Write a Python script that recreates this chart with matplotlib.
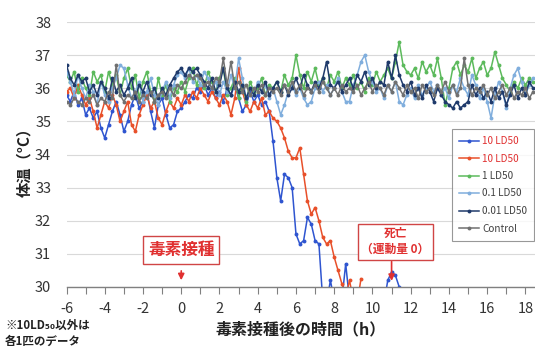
import numpy as np
import matplotlib
matplotlib.use("Agg")
import matplotlib.pyplot as plt
from matplotlib.ticker import MultipleLocator

plt.rcParams['font.family'] = ['Noto Sans CJK JP', 'DejaVu Sans']
plt.rcParams['axes.unicode_minus'] = False

# ---------------- data ----------------
time_start = -6.0
time_step = 0.2

series_labels = ["10 LD50", "10 LD50", "1 LD50", "0.1 LD50", "0.01 LD50", "Control"]

ld10_a = [35.8, 35.6, 35.9, 35.5, 35.7,
          35.2, 35.4, 35.1, 35.3, 34.8,
          34.5, 34.9, 35.3, 35.6, 35.2,
          34.7, 35.0, 35.5, 35.8, 35.4,
          35.6, 35.9, 35.3, 34.8, 35.5,
          35.7, 35.2, 34.8, 34.9, 35.3,
          35.4, 35.6, 35.8, 35.7, 36.0,
          35.9, 36.1, 35.8, 36.0, 35.7,
          35.9, 35.6, 36.0, 35.8, 36.1,
          35.7, 35.3, 35.5, 35.9, 35.6,
          35.8, 35.5, 35.6, 35.3, 34.4,
          33.3, 32.6, 33.4, 33.3, 33.0,
          31.6, 31.3, 31.4, 32.1, 31.9,
          31.4, 31.3, 29.6, 29.5, 30.2,
          29.6, 29.5, 29.6, 30.7, 29.6,
          29.5, 29.5, 29.5, 29.5, 29.5,
          29.5, 29.5, 29.5, 29.5, 30.2,
          30.45, 30.35, 30.0]

ld10_b = [35.9, 36.0, 35.7, 36.1, 35.8,
          35.5, 35.7, 35.3, 34.8, 35.2,
          35.6, 35.4, 35.8, 35.5, 35.0,
          35.3, 35.6, 34.9, 34.7, 35.2,
          35.5, 35.8, 35.4, 35.6, 35.1,
          34.9, 35.3, 35.6, 35.4, 35.7,
          35.5, 35.8, 35.6, 35.9, 35.7,
          36.0, 35.8, 35.6, 35.9, 35.7,
          35.5, 35.8, 35.6, 35.2, 35.7,
          36.6, 35.9, 35.5, 35.3, 35.6,
          35.4, 35.7, 35.2, 35.3, 35.1,
          35.0, 34.8, 34.5, 34.1, 33.9,
          33.9, 34.2, 33.4, 32.6, 32.2,
          32.4, 32.0, 31.5, 31.3, 31.4,
          30.9, 30.5, 30.1, 29.7, 30.2,
          29.6, 29.5, 30.25]

ld1 = [36.4, 36.2, 36.5, 35.9, 36.3,
       36.0, 35.8, 36.5, 36.2, 36.4,
       35.9, 36.5, 36.1, 36.4, 35.8,
       36.3, 36.6, 36.0, 36.4, 35.7,
       36.2, 36.5, 35.9, 35.6, 36.3,
       35.8, 36.1, 35.6, 36.0, 35.9,
       36.2, 35.9, 36.3, 36.6, 36.1,
       36.4, 36.0, 36.5, 36.2, 35.9,
       36.3, 36.6, 35.8, 36.0, 36.3,
       35.7, 36.1, 35.6, 36.2, 35.9,
       36.0, 36.3, 35.8, 36.1, 36.0,
       36.2, 35.9, 36.4, 36.1, 36.3,
       37.0, 36.4, 36.0, 36.5, 36.2,
       36.6, 36.1, 36.3, 36.0, 36.4,
       36.2, 36.5, 36.0, 36.3, 36.1,
       36.4, 36.0, 36.2, 35.9, 36.3,
       36.1, 36.5, 36.2, 36.4, 36.6,
       36.3, 36.8, 37.4, 36.7, 36.5,
       36.4, 36.6, 36.3, 36.8, 36.5,
       36.7, 36.4, 36.9, 36.3, 35.5,
       36.0, 36.6, 36.8, 36.4, 36.7,
       36.5, 36.9, 36.3, 36.6, 36.8,
       36.4, 36.6, 37.1, 36.7, 36.3,
       36.1, 35.9, 36.2, 36.0, 36.3,
       36.1, 36.3, 36.2]

ld01 = [36.5, 36.2, 35.8, 36.4, 36.0,
        35.7, 36.1, 35.9, 35.5, 36.2,
        35.8, 35.6, 36.0, 36.3, 36.7,
        36.6, 36.1, 35.7, 35.9, 36.2,
        35.6, 35.9, 36.3, 35.8, 35.5,
        35.9, 36.2, 35.7, 36.1, 36.4,
        36.5, 36.3, 36.6, 36.2, 36.4,
        36.1, 36.5, 36.3, 36.0, 36.2,
        35.8, 36.2, 35.9, 36.4, 36.0,
        36.9, 36.3, 35.7, 36.0, 35.8,
        36.2, 35.9, 36.1, 35.7, 36.0,
        35.6, 35.2, 35.5, 35.9, 36.1,
        35.8, 36.0, 35.7, 35.5, 35.6,
        36.0, 36.2, 35.9, 36.1, 35.8,
        36.0, 36.3, 35.9, 35.6, 35.6,
        36.1, 36.4, 36.8, 37.0, 36.5,
        36.2, 35.9, 36.0, 35.7, 36.1,
        35.9, 36.2, 35.6, 35.5, 35.8,
        36.0, 35.7, 36.1, 35.8, 36.0,
        36.2, 35.9, 36.1, 35.8, 36.0,
        35.7, 36.1, 35.9, 36.3, 36.0,
        35.8, 36.4, 36.1, 35.7, 36.0,
        35.6, 35.1, 35.8, 36.2, 35.9,
        35.4, 36.0, 36.4, 36.6, 36.2,
        35.8, 36.1, 36.3]

ld001 = [36.7, 36.3, 36.1, 36.4, 36.2,
         36.3, 35.9, 36.1, 35.8, 36.2,
         36.0, 35.7, 36.3, 35.9, 36.1,
         35.8, 36.0, 36.3, 35.7, 36.1,
         35.9, 36.2, 35.8, 36.0, 35.7,
         36.0, 35.8, 36.1, 36.3, 36.5,
         36.6, 36.4, 36.6, 36.5, 36.6,
         36.4, 36.2, 36.0, 36.3, 35.9,
         36.1, 36.6, 36.0, 35.8, 36.2,
         35.9, 36.1, 35.7, 36.0, 35.8,
         36.1, 35.9, 36.2, 35.8, 36.0,
         36.2, 35.9, 36.1, 35.8, 36.0,
         36.3, 36.0, 36.4, 36.1, 35.9,
         36.2, 36.0, 36.3, 36.8, 36.1,
         36.0, 36.2, 35.9, 36.1, 36.3,
         36.0, 36.4, 36.2, 36.5, 36.1,
         36.3, 36.0, 36.2, 36.1, 36.8,
         36.3, 37.0, 36.4, 36.1, 35.9,
         36.2, 35.8, 36.0, 35.7, 36.1,
         35.9, 35.6, 36.0, 35.8, 35.6,
         35.5, 35.4, 35.6, 35.4, 35.5,
         35.6, 36.1, 35.8, 36.0, 35.7,
         35.9, 35.6, 36.0, 35.7, 35.9,
         35.5, 35.8, 36.1, 35.7, 36.0,
         35.8, 36.2, 36.0]

control = [35.6, 35.5, 35.7, 35.6, 35.5,
           35.7, 35.6, 35.8, 35.5, 35.7,
           35.6, 35.9, 35.7, 36.7, 35.8,
           35.6, 35.8, 35.7, 35.9, 35.6,
           35.8, 35.7, 35.9, 35.6, 35.8,
           35.9, 35.7, 36.0, 35.8, 36.1,
           36.0, 36.2, 36.4, 36.3, 36.4,
           36.3, 36.1, 36.2, 36.0, 36.3,
           36.2, 36.9, 36.1, 36.8, 36.0,
           36.2, 35.9, 36.1, 35.8, 36.0,
           35.9, 36.1, 35.8, 36.0, 35.9,
           36.0, 35.8, 36.1, 35.9, 36.2,
           35.9, 36.1, 35.8, 36.0, 35.9,
           36.1, 35.9, 36.2, 36.0, 35.8,
           36.0, 35.8, 36.1, 35.9, 36.0,
           35.9, 36.1, 35.8, 36.0, 36.2,
           35.9, 36.1, 36.0, 35.8, 36.1,
           35.9, 36.2, 36.0, 35.8, 36.1,
           35.9, 36.0, 35.7, 36.1, 35.9,
           36.0, 35.8, 36.1, 35.9, 36.2,
           35.9, 36.1, 35.8, 36.0, 36.9,
           36.1, 35.8, 36.0, 35.9, 36.1,
           35.8, 36.0, 35.7, 35.9, 36.1,
           35.8, 36.0, 35.7, 35.9, 35.8,
           36.0, 35.7, 35.9]

all_series = [ld10_a, ld10_b, ld1, ld01, ld001, control]
colors = ['#2F55D0', '#E8502A', '#5CBA5C', '#80AEDD', '#1F3A6B', '#707070']
label_colors = ['#E03030', '#E03030', '#404040', '#404040', '#404040', '#404040']

x_ticks = [-6, -4, -2, 0, 2, 4, 6, 8, 10, 12, 14, 16, 18]
y_ticks = [30, 31, 32, 33, 34, 35, 36, 37, 38]

# ---------------- figure ----------------
fig = plt.figure(figsize=(5.35, 3.56), dpi=100)
ax = fig.add_axes([66.5 / 535, 69 / 356, 468.5 / 535, 265 / 356])

for vals, c, lab in zip(all_series, colors, series_labels):
    t = time_start + time_step * np.arange(len(vals))
    ax.plot(t, vals, color=c, lw=1.1, marker='o', ms=2.8, mew=0, label=lab)

ax.set_xlim(-6, 18.5)
ax.set_ylim(30, 38)
ax.set_yticks(y_ticks)
ax.set_xticks(x_ticks)
ax.xaxis.set_minor_locator(MultipleLocator(1))
ax.grid(axis='y', color='#D9D9D9', lw=0.8)
ax.set_axisbelow(True)
for s in ['top', 'right', 'left']:
    ax.spines[s].set_visible(False)
ax.spines['bottom'].set_color('#808080')
ax.spines['bottom'].set_linewidth(1.0)
ax.tick_params(axis='y', length=0, pad=11, labelsize=10.5, labelcolor='#333333')
ax.tick_params(axis='x', which='both', direction='out', length=5, width=0.8,
               color='#808080', pad=6, labelsize=10.5, labelcolor='#333333')

ax.set_xlabel('毒素接種後の時間（h）', fontsize=11.5, fontweight='bold',
              color='#222222', labelpad=4)
fig.text(24 / 535, 1 - 158 / 356, '体温（°C）', rotation=90, fontsize=11,
         fontweight='bold', color='#222222', ha='center', va='center')

leg = fig.legend(loc='upper left', bbox_to_anchor=(447 / 535, 1 - 124 / 356),
                 fontsize=7.2, frameon=True, fancybox=False, handlelength=2.0,
                 handletextpad=0.3, labelspacing=0.75, borderpad=0.7,
                 edgecolor='#7F7F7F')
leg.get_frame().set_linewidth(0.8)
for txt, lc in zip(leg.get_texts(), label_colors):
    txt.set_color(lc)

red = '#E03030'
box = dict(boxstyle='square,pad=0.3', fc='white', ec='#D04545', lw=1.0)
ax.annotate('', xy=(0, 30.12), xytext=(0, 30.57),
            arrowprops=dict(arrowstyle='-|>', color=red, lw=1.2, mutation_scale=9))
ax.text(0, 31.13, '毒素接種', ha='center', va='center', fontsize=12,
        fontweight='bold', color=red, bbox=box)

ax.annotate('', xy=(11.0, 30.1), xytext=(11.0, 30.85),
            arrowprops=dict(arrowstyle='-|>', color=red, lw=1.2, mutation_scale=9))
ax.text(11.2, 31.37, '死亡\n（運動量 0）', ha='center', va='center', fontsize=8.5,
        fontweight='bold', color=red, bbox=box, linespacing=1.3)

fig.text(5 / 535, 1 - 319 / 356, '※10LD₅₀以外は\n各1匹のデータ', fontsize=8.3,
         fontweight='bold', color='#222222', ha='left', va='top', linespacing=1.3)

fig.savefig('out.png', dpi=100)
